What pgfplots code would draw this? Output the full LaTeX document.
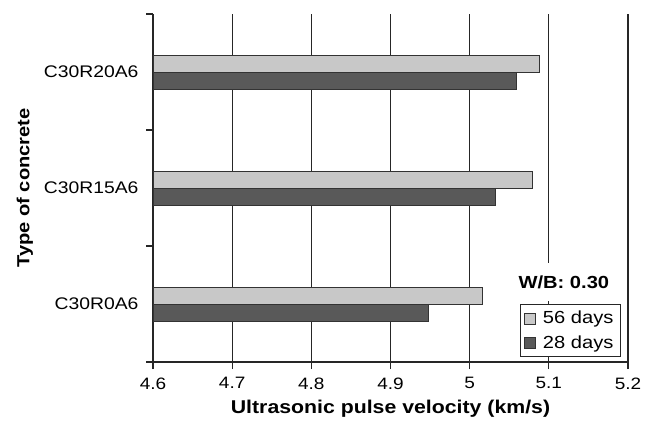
\documentclass[border=0pt]{standalone}
\usepackage{fontspec}
\setmainfont{Liberation Sans}[FakeStretch=1.15]
\usepackage{pgfplots}
\pgfplotsset{compat=1.18}

\definecolor{barlight}{HTML}{C8C8C8}
\definecolor{bardark}{HTML}{595959}
\definecolor{edge}{HTML}{333333}

\begin{document}
\begin{tikzpicture}
\path (0,0) rectangle (651pt,421pt);
\begin{axis}[
    at={(153pt,59pt)}, anchor=south west,
    scale only axis,
    width=475pt, height=348pt,
    xbar,
    bar width=17pt,
    xmin=4.6, xmax=5.2,
    ymin=-0.5, ymax=2.5,
    xtick={4.6,4.7,4.8,4.9,5,5.1,5.2},
    ytick={-0.5,0.5,1.5,2.5},
    yticklabels={},
    extra y ticks={0,1,2},
    extra y tick labels={C30R0A6,C30R15A6,C30R20A6},
    extra y tick style={major tick length=0pt, ymajorgrids=false,
        yticklabel style={font=\fontsize{16.8}{19}\selectfont, xshift=-11pt}},
    axis x line*=bottom,
    axis y line*=left,
    axis line style={line width=1.2pt, color=black!85},
    tick align=outside,
    major tick length=7pt,
    tick style={line width=1.1pt, color=black!85},
    xmajorgrids,
    grid style={line width=1.1pt, color=black!85},
    /pgf/number format/assume math mode=true,
    xticklabel style={font=\fontsize{16.5}{18}\selectfont, yshift=-5pt},
    xlabel={\textbf{Ultrasonic pulse velocity (km/s)}},
    ylabel={\textbf{Type of concrete}},
    xlabel style={font=\fontsize{18.5}{20}\selectfont, yshift=-4pt},
    ylabel style={font=\fontsize{17.5}{20}\selectfont, yshift=-3pt},
    legend style={at={(rel axis cs:0.985,0.014)}, anchor=south east,
        draw=black!85, line width=0.9pt, fill=white,
        font=\fontsize{17.5}{20}\selectfont,
        row sep=6pt, inner xsep=4pt, inner ysep=5pt,
        nodes={inner xsep=3pt},
        /tikz/every odd column/.append style={column sep=4pt}},
    legend cell align=left,
    legend image code/.code={\draw[#1, line width=0.8pt] (0pt,-5.5pt) rectangle (11pt,5.5pt);},
]
\addplot[fill=barlight, draw=edge, line width=1pt, bar shift=8.5pt]
    coordinates {(5.016,0) (5.080,1) (5.088,2)};
\addlegendentry{56 days}
\addplot[fill=bardark, draw=edge, line width=1pt, bar shift=-8.5pt]
    coordinates {(4.948,0) (5.033,1) (5.059,2)};
\addlegendentry{28 days}
\node[fill=white, minimum height=38pt, inner xsep=2pt, font=\fontsize{17.5}{20}\selectfont\bfseries]
    at (rel axis cs:0.865,0.23) {W/B: 0.30};
\end{axis}
\end{tikzpicture}
\end{document}
